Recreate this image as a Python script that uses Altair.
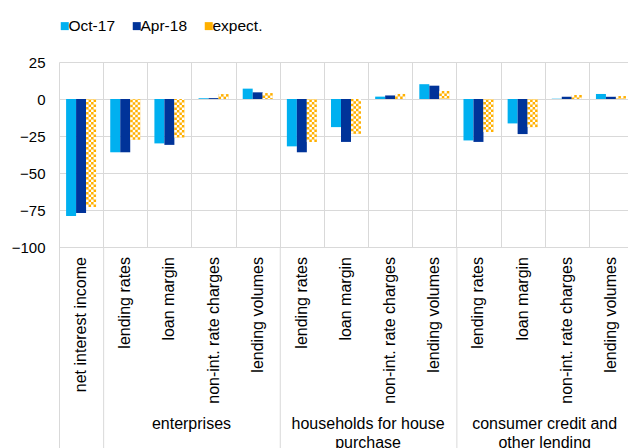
import altair as alt
import pandas as pd

# Category structure: group heading and item label per column
groups = ["",
          "enterprises", "enterprises", "enterprises", "enterprises",
          "households for house\npurchase", "households for house\npurchase",
          "households for house\npurchase", "households for house\npurchase",
          "consumer credit and\nother lending", "consumer credit and\nother lending",
          "consumer credit and\nother lending", "consumer credit and\nother lending"]
items = ["net interest income",
         "lending rates", "loan margin", "non-int. rate charges", "lending volumes",
         "lending rates", "loan margin", "non-int. rate charges", "lending volumes",
         "lending rates", "loan margin", "non-int. rate charges", "lending volumes"]

# Survey balances per column
oct17 = [-79, -36, -30, 0.5, 7, -32, -19, 1.6, 10, -28, -16.5, 0.2, 3.4]
apr18 = [-77, -36, -31, 0.6, 4.5, -36, -29, 2.4, 9, -29, -23.7, 1.5, 1.5]
expect = [-73, -27.5, -26, 3.3, 4, -29, -23.5, 3.4, 5.4, -22.3, -19, 2.7, 2]

series = ["Oct-17", "Apr-18", "expect."]
colors = ["#00B0F0", "#003399", "#FFB000"]
y_ticks = [25, 0, -25, -50, -75, -100]

FONT = "Liberation Sans"
GRID = "#D9D9D9"

keys = [f"{i:02d}" for i in range(len(items))]

rows = []
for i, k in enumerate(keys):
    for s, vals in zip(series, [oct17, apr18, expect]):
        rows.append({"key": k, "item": items[i], "group": groups[i], "series": s, "value": vals[i]})
long_df = pd.DataFrame(rows)

cat_df = pd.DataFrame({"key": keys, "item": items, "group": groups})

# group headings sit on the boundary between the 2nd and 3rd item of each group
group_names = []
group_center_keys = []
group_start_keys = [keys[0]]
for i, g in enumerate(groups):
    if g and (i == 0 or groups[i - 1] != g):
        group_start_keys.append(keys[i])
        group_names.append(g)
        group_center_keys.append(keys[i + 2])
grp_df = pd.DataFrame({"key": group_center_keys, "group": group_names})
sep_df = pd.DataFrame({"key": group_start_keys})

xscale = alt.Scale(domain=keys, range=[0, 574], paddingInner=0, paddingOuter=0)
xaxis = alt.Axis(labels=False, ticks=False, domain=False, title=None, grid=True,
                 gridColor=GRID, gridWidth=1, tickBand="extent")
yscale = alt.Scale(domain=[-100, 25], nice=False, zero=False)
yaxis = alt.Axis(values=y_ticks, grid=True, gridColor=GRID, gridWidth=1, ticks=False,
                 domain=False, labelPadding=14, labelFontSize=15, labelFont=FONT,
                 labelColor="#000000", title=None)


def xenc(**kw):
    return alt.X("key:N", sort=keys, scale=xscale, axis=xaxis, **kw)


def yenc():
    return alt.Y("value:Q", scale=yscale, axis=yaxis)


bars = alt.Chart(long_df).mark_bar().encode(
    x=xenc(),
    xOffset=alt.XOffset("series:N", sort=series,
                        scale=alt.Scale(domain=series, paddingInner=0, paddingOuter=0.71)),
    y=yenc(),
    color=alt.Color("series:N", sort=series,
                    scale=alt.Scale(domain=series, range=colors),
                    legend=alt.Legend(orient="none", legendX=-2, legendY=-44,
                                      direction="horizontal", title=None,
                                      symbolType="square", symbolSize=64,
                                      symbolStrokeWidth=0, labelFontSize=15.5,
                                      labelFont=FONT, labelColor="#000000",
                                      labelOffset=alt.ExprRef(expr="-4"),
                                      columnPadding=13, padding=0, offset=0)),
)

# white checker cells over the expectation bars
checker = []
for c in range(4):
    checker.append(
        alt.Chart(long_df).transform_filter(alt.datum.series == "expect.")
        .mark_rule(color="white", strokeWidth=2.5, strokeDash=[2.5, 2.5],
                   strokeDashOffset=0 if c % 2 == 0 else 2.5,
                   xOffset=6.25 + 2.5 * c)
        .encode(x=xenc(), y=yenc(), y2=alt.datum(0))
    )

item_labels = alt.Chart(cat_df).mark_text(
    angle=270, align="right", baseline="middle", fontSize=16, font=FONT, color="#000000"
).encode(x=xenc(), y=alt.value(195), text="item:N")

group_labels = alt.Chart(grp_df).mark_text(
    align="center", baseline="alphabetic", fontSize=16, font=FONT, color="#000000",
    lineBreak="\n", lineHeight=18.5
).encode(x=xenc(bandPosition=0), y=alt.value(367), text="group:N")

separators = alt.Chart(sep_df).mark_rule(color=GRID, strokeWidth=1, xOffset=0.5).encode(
    x=xenc(bandPosition=0), y=alt.value(185), y2=alt.value(386)
)

chart = alt.layer(bars, *checker, item_labels, group_labels, separators).properties(
    width=569, height=185,
    padding={"left": 59, "top": 62, "right": 0, "bottom": 201},
    autosize=alt.AutoSizeParams(type="none"),
    background="white",
).configure_view(stroke=None)

chart.save("out.html", embed_options={"renderer": "svg", "actions": False})
